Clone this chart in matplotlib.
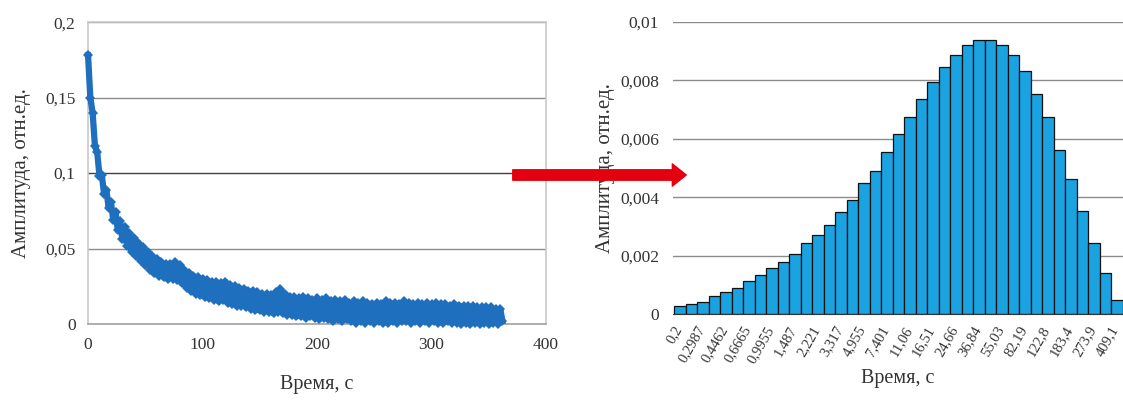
import matplotlib
matplotlib.use('Agg')
import matplotlib.pyplot as plt
from matplotlib.patches import FancyArrowPatch

plt.rcParams['font.family'] = ['Liberation Serif', 'DejaVu Serif']

# left chart: amplitude decay, sampled every 2 s
time_s = list(range(0, 364, 2))
amp = [0.178, 0.150, 0.140, 0.118, 0.114, 0.098, 0.099, 0.086, 0.089, 0.077,
       0.081, 0.069, 0.074, 0.062, 0.068, 0.056, 0.064, 0.052, 0.060, 0.048,
       0.057, 0.045, 0.054, 0.042, 0.051, 0.039, 0.048, 0.036, 0.045, 0.034,
       0.043, 0.032, 0.041, 0.031, 0.040, 0.030, 0.040, 0.030, 0.041, 0.029,
       0.039, 0.027, 0.036, 0.024, 0.034, 0.022, 0.032, 0.020, 0.031, 0.019,
       0.030, 0.018, 0.029, 0.017, 0.028, 0.016, 0.028, 0.015, 0.027, 0.016,
       0.028, 0.014, 0.026, 0.013, 0.025, 0.012, 0.024, 0.012, 0.023, 0.011,
       0.022, 0.010, 0.022, 0.009, 0.021, 0.009, 0.020, 0.008, 0.020, 0.008,
       0.019, 0.007, 0.021, 0.008, 0.023, 0.007, 0.020, 0.006, 0.018, 0.006,
       0.018, 0.005, 0.017, 0.005, 0.018, 0.004, 0.017, 0.005, 0.016, 0.004,
       0.017, 0.003, 0.016, 0.004, 0.017, 0.003, 0.015, 0.002, 0.016, 0.003,
       0.015, 0.002, 0.016, 0.003, 0.014, 0.002, 0.015, 0.001, 0.014, 0.002,
       0.015, 0.001, 0.014, 0.002, 0.013, 0.001, 0.014, 0.002, 0.013, 0.001,
       0.015, 0.001, 0.014, 0.002, 0.014, 0.001, 0.013, 0.002, 0.015, 0.002,
       0.014, 0.001, 0.013, 0.002, 0.014, 0.001, 0.013, 0.002, 0.014, 0.001,
       0.013, 0.002, 0.014, 0.001, 0.013, 0.001, 0.013, 0.002, 0.012, 0.001,
       0.013, 0.001, 0.012, 0.000, 0.012, 0.001, 0.012, 0.000, 0.012, 0.001,
       0.011, 0.000, 0.011, 0.001, 0.011, 0.000, 0.011, 0.001, 0.010, 0.000,
       0.010, 0.002]
left_xticks = [0, 100, 200, 300, 400]
left_yticks = [0, 0.05, 0.1, 0.15, 0.2]
left_ylabels = ['0', '0,05', '0,1', '0,15', '0,2']

# right chart: spectrum over log-spaced time bins
bar_heights = [0.00027, 0.00034, 0.00042, 0.00062, 0.00076, 0.00088, 0.00114,
               0.00133, 0.00158, 0.00179, 0.00205, 0.00242, 0.00270, 0.00304,
               0.00350, 0.00392, 0.00447, 0.00490, 0.00555, 0.00615, 0.00673,
               0.00737, 0.00795, 0.00846, 0.00886, 0.00920, 0.00937, 0.00937,
               0.00920, 0.00886, 0.00831, 0.00755, 0.00673, 0.00563, 0.00461,
               0.00353, 0.00242, 0.00141, 0.00048]
bin_labels = ['0,2', '0,2987', '0,4462', '0,6665', '0,9955', '1,487', '2,221',
              '3,317', '4,955', '7,401', '11,06', '16,51', '24,66', '36,84',
              '55,03', '82,19', '122,8', '183,4', '273,9', '409,1']
right_yticks = [0, 0.002, 0.004, 0.006, 0.008, 0.01]
right_ylabels = ['0', '0,002', '0,004', '0,006', '0,008', '0,01']

blue = '#1f6fbf'
bar_blue = '#1aa3e0'
grid_c = '#8c8c8c'
txt_c = '#333333'

fig = plt.figure(figsize=(11.23, 4.03), dpi=100)

# ---- left
ax1 = fig.add_axes([0.0784, 0.196, 0.4078, 0.749])
ax1.plot(time_s, amp, color=blue, lw=4.5, marker='D', ms=5.5, mew=0,
         clip_on=False, zorder=3)
ax1.set_xlim(0, 400)
ax1.set_ylim(0, 0.2)
ax1.set_xticks(left_xticks)
ax1.set_xticklabels([str(v) for v in left_xticks])
ax1.set_yticks(left_yticks)
ax1.set_yticklabels(left_ylabels)
for y in left_yticks[1:]:
    ax1.axhline(y, color='#404040' if y == 0.1 else grid_c, lw=1.0, zorder=0)
for s in ax1.spines.values():
    s.set_color('#c8c8c8')
    s.set_linewidth(1.2)
ax1.spines['bottom'].set_color('#a0a0a0')
ax1.tick_params(length=0, labelsize=12.5, colors=txt_c, pad=9)
ax1.set_xlabel('Время, с', fontsize=14.5, color=txt_c, labelpad=16)
ax1.set_ylabel('Амплитуда, отн.ед.', fontsize=15, color=txt_c, labelpad=10)

# ---- right
ax2 = fig.add_axes([0.5993, 0.2208, 0.4007, 0.7246])
pos = list(range(len(bar_heights)))
ax2.bar(pos, bar_heights, width=1.0, color=bar_blue, edgecolor='#111111',
        linewidth=0.9, zorder=2)
ax2.set_xlim(-0.5, len(bar_heights) - 0.5)
ax2.set_ylim(0, 0.01)
ax2.set_yticks(right_yticks)
ax2.set_yticklabels(right_ylabels)
# labels sit on every other bar, a little left of its centre (ticks are hidden)
ax2.set_xticks([p - 0.6 for p in pos[::2]])
ax2.set_xticklabels(bin_labels, rotation=60, ha='right', rotation_mode='anchor')
for y in right_yticks[1:]:
    ax2.axhline(y, color=grid_c, lw=1.0, zorder=0)
for side in ['left', 'right', 'top']:
    ax2.spines[side].set_visible(False)
ax2.spines['bottom'].set_color('#333333')
ax2.tick_params(length=0, labelsize=12.5, colors=txt_c)
ax2.tick_params(axis='x', labelsize=10.5, pad=7)
ax2.tick_params(axis='y', pad=10)
ax2.set_xlabel('Время, с', fontsize=14.5, color=txt_c, labelpad=3)
ax2.set_ylabel('Амплитуда, отн.ед.', fontsize=15, color=txt_c, labelpad=4)

# red arrow between the panels
arrow = FancyArrowPatch((510 / 1123, 1 - 175 / 403), (689 / 1123, 1 - 175 / 403),
                        transform=fig.transFigure,
                        arrowstyle='simple,head_width=1.6,head_length=1.0,tail_width=0.75',
                        mutation_scale=10, color='#e3000f', zorder=10)
fig.add_artist(arrow)

fig.savefig('out.png', dpi=100)
